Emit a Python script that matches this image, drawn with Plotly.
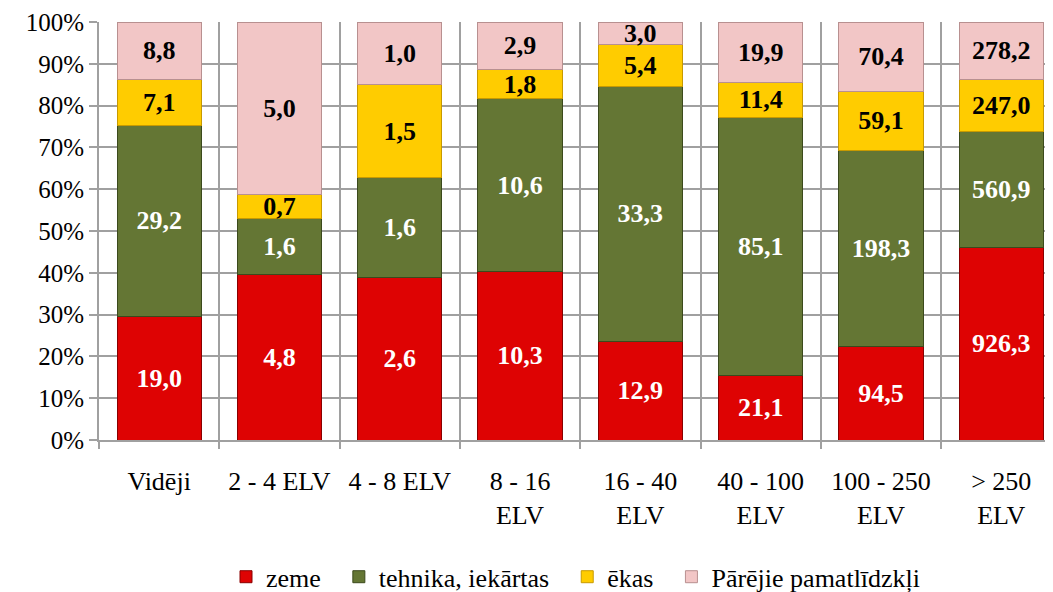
import plotly.graph_objects as go

categories = ["Vidēji", "2 - 4 ELV", "4 - 8 ELV", "8 - 16<br>ELV", "16 - 40<br>ELV",
              "40 - 100<br>ELV", "100 - 250<br>ELV", "> 250<br>ELV"]
zeme = [19.0, 4.8, 2.6, 10.3, 12.9, 21.1, 94.5, 926.3]
tehnika = [29.2, 1.6, 1.6, 10.6, 33.3, 85.1, 198.3, 560.9]
ekas = [7.1, 0.7, 1.5, 1.8, 5.4, 11.4, 59.1, 247.0]
parejie = [8.8, 5.0, 1.0, 2.9, 3.0, 19.9, 70.4, 278.2]
y_ticks = list(range(0, 101, 10))

series = [
    ("zeme\u00a0\u00a0", zeme, "#DE0303", "#8A0000", "white"),
    ("tehnika, iekārtas\u00a0\u00a0", tehnika, "#647634", "#3B4A1C", "white"),
    ("ēkas\u00a0\u00a0", ekas, "#FFCC00", "#C89A00", "black"),
    ("Pārējie pamatlīdzkļi", parejie, "#F2C6C6", "#B89090", "black"),
]

FONT = "Liberation Serif"
xpos = list(range(len(categories)))

fig = go.Figure()
for name, vals, col, edge, tcol in series:
    fig.add_trace(go.Bar(
        x=xpos, y=vals, name=name,
        marker=dict(color=col, line=dict(color=edge, width=1)),
        width=0.7,
        text=[f"{v:.1f}".replace(".", ",") for v in vals],
        textposition="inside", insidetextanchor="middle",
        textangle=0,
        textfont=dict(family=FONT, size=26, color=tcol, weight="bold"),
        constraintext="none",
    ))

# page body has an 8px margin; compensate so the plot lands where the reference has it
fig.update_layout(
    barmode="stack", barnorm="percent",
    width=1045, height=584,
    margin=dict(l=91, r=0, t=14, b=152, autoexpand=False),
    plot_bgcolor="white", paper_bgcolor="white",
    font=dict(family=FONT, size=26, color="black"),
    uniformtext=dict(minsize=26, mode="show"),
    showlegend=True,
    legend=dict(orientation="h", x=0.5, xanchor="center",
                yref="container", y=0.026, yanchor="middle",
                font=dict(family=FONT, size=26, color="black"), itemwidth=30,
                traceorder="normal"),
)
fig.update_xaxes(
    range=[-0.5, 7.43], tickvals=xpos, ticktext=categories, automargin=False,
    tickfont=dict(family=FONT, size=26, color="black"),
    showgrid=False, ticks="", showline=True, linecolor="#a0a0a0", linewidth=2,
    ticklabelstandoff=17,
    minor=dict(tickvals=[i - 0.5 for i in range(9)], ticks="outside", ticklen=7,
               tickcolor="#a0a0a0", tickwidth=2, showgrid=True,
               gridcolor="#a0a0a0", gridwidth=2),
    zeroline=False,
)
fig.update_yaxes(
    range=[0, 100], tickmode="array", tickvals=y_ticks, automargin=False,
    ticktext=[f"{v}%" for v in y_ticks],
    tickfont=dict(family=FONT, size=25, color="black"),
    showgrid=True, gridcolor="#a0a0a0", gridwidth=2,
    ticks="outside", ticklen=8, tickcolor="#a0a0a0", tickwidth=2,
    showline=True, linecolor="#a0a0a0", linewidth=2, zeroline=False,
)

fig.write_html("out.html")
